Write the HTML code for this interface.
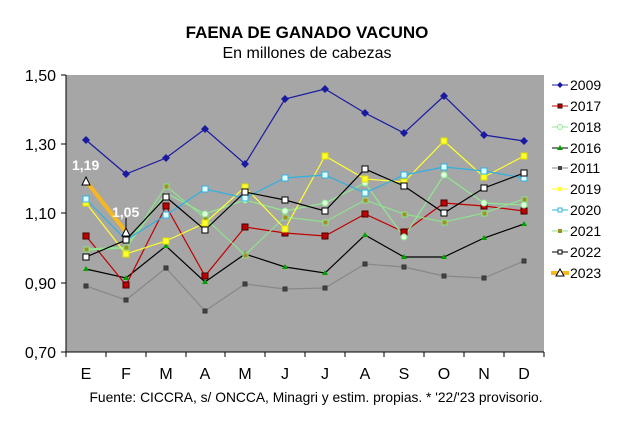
<!DOCTYPE html>
<html><head><meta charset="utf-8"><style>
body{margin:0;background:#fff;}
svg text{font-family:"Liberation Sans",Arial,sans-serif;}
</style></head><body>
<svg width="640" height="421" viewBox="0 0 640 421" xmlns="http://www.w3.org/2000/svg">
<rect width="640" height="421" fill="#fff"/>
<text x="307" y="38" font-size="17" font-weight="bold" text-anchor="middle">FAENA DE GANADO VACUNO</text>
<text x="307" y="58" font-size="16" text-anchor="middle">En millones de cabezas</text>
<rect x="66" y="75" width="478" height="277" fill="#a6a6a6"/>
<g stroke="#000" stroke-width="1">
<line x1="66" y1="75" x2="66" y2="352"/><line x1="66" y1="352" x2="544" y2="352"/>
<line x1="61" y1="75" x2="66" y2="75"/><line x1="61" y1="144" x2="66" y2="144"/><line x1="61" y1="213" x2="66" y2="213"/><line x1="61" y1="283" x2="66" y2="283"/><line x1="61" y1="352" x2="66" y2="352"/>
<line x1="66" y1="352" x2="66" y2="357"/><line x1="106" y1="352" x2="106" y2="357"/><line x1="146" y1="352" x2="146" y2="357"/><line x1="186" y1="352" x2="186" y2="357"/><line x1="225" y1="352" x2="225" y2="357"/><line x1="265" y1="352" x2="265" y2="357"/><line x1="305" y1="352" x2="305" y2="357"/><line x1="345" y1="352" x2="345" y2="357"/><line x1="384" y1="352" x2="384" y2="357"/><line x1="424" y1="352" x2="424" y2="357"/><line x1="464" y1="352" x2="464" y2="357"/><line x1="504" y1="352" x2="504" y2="357"/><line x1="544" y1="352" x2="544" y2="357"/>
</g>
<g font-size="16" text-anchor="end">
<text x="56" y="81">1,50</text><text x="56" y="150">1,30</text><text x="56" y="219">1,10</text><text x="56" y="289">0,90</text><text x="56" y="358">0,70</text>
</g>
<g font-size="16" text-anchor="middle">
<text x="86" y="379">E</text><text x="126" y="379">F</text><text x="166" y="379">M</text><text x="205" y="379">A</text><text x="245" y="379">M</text><text x="285" y="379">J</text><text x="325" y="379">J</text><text x="365" y="379">A</text><text x="404" y="379">S</text><text x="444" y="379">O</text><text x="484" y="379">N</text><text x="524" y="379">D</text>
</g>
<text x="316" y="402" font-size="13.8" text-anchor="middle">Fuente: CICCRA, s/ ONCCA, Minagri y estim. propias. * '22/'23 provisorio.</text>

<g fill="none" stroke-width="1.2">
<polyline stroke="#888" points="86,286 126,300 166,268 205,311 245,284 285,289 325,288 365,264 404,267 444,276 484,278 524,261"/>
<polyline stroke="#000" points="86,269 126,278 166,246 205,282 245,254 285,267 325,273 365,235 404,257 444,257 484,238 524,224"/>
<polyline stroke="#c00000" points="86,236 126,285 166,206 205,276 245,227 285,233 325,236 365,214 404,232 444,203 484,206 524,211"/>
<polyline stroke="#90e090" points="86,249 126,247 166,186 205,218 245,255 285,217 325,222 365,200 404,214 444,222 484,213 524,199"/>
<polyline stroke="#90e890" points="86,250 126,248 166,193 205,214 245,200 285,211 325,203 365,183 404,237 444,175 484,203 524,205"/>
<polyline stroke="#ffff30" points="86,203 126,254 166,241 205,223 245,187 285,229 325,156 365,179 404,182 444,141 484,177 524,156"/>
<polyline stroke="#30b0e0" points="86,199 126,240 166,215 205,189 245,198 285,178 325,175 365,193 404,175 444,167 484,171 524,178"/>
<polyline stroke="#000" points="86,257 126,240 166,197 205,230 245,192 285,200 325,211 365,169 404,186 444,213 484,188 524,173"/>
<polyline stroke="#1a1aa0" points="86,140 126,174 166,158 205,129 245,164 285,99 325,89 365,113 404,133 444,96 484,135 524,141"/>
<polyline stroke="#f5b820" stroke-width="4" points="86,181 126,232"/>
</g>
<g stroke-width="1">
<g fill="#444" stroke="#333"><rect x="84" y="284" width="4" height="4"/><rect x="124" y="298" width="4" height="4"/><rect x="164" y="266" width="4" height="4"/><rect x="203" y="309" width="4" height="4"/><rect x="243" y="282" width="4" height="4"/><rect x="283" y="287" width="4" height="4"/><rect x="323" y="286" width="4" height="4"/><rect x="363" y="262" width="4" height="4"/><rect x="402" y="265" width="4" height="4"/><rect x="442" y="274" width="4" height="4"/><rect x="482" y="276" width="4" height="4"/><rect x="522" y="259" width="4" height="4"/></g>
<g fill="#00a000"><polygon points="86,266 89,271 83,271"/><polygon points="126,275 129,280 123,280"/><polygon points="166,243 169,248 163,248"/><polygon points="205,279 208,284 202,284"/><polygon points="245,251 248,256 242,256"/><polygon points="285,264 288,269 282,269"/><polygon points="325,270 328,275 322,275"/><polygon points="365,232 368,237 362,237"/><polygon points="404,254 407,259 401,259"/><polygon points="444,254 447,259 441,259"/><polygon points="484,235 487,240 481,240"/><polygon points="524,221 527,226 521,226"/></g>
<g fill="#c00000" stroke="#400"><rect x="83" y="233" width="6" height="6"/><rect x="123" y="282" width="6" height="6"/><rect x="163" y="203" width="6" height="6"/><rect x="202" y="273" width="6" height="6"/><rect x="242" y="224" width="6" height="6"/><rect x="282" y="230" width="6" height="6"/><rect x="322" y="233" width="6" height="6"/><rect x="362" y="211" width="6" height="6"/><rect x="401" y="229" width="6" height="6"/><rect x="441" y="200" width="6" height="6"/><rect x="481" y="203" width="6" height="6"/><rect x="521" y="208" width="6" height="6"/></g>
<g fill="#a09020" stroke="#90e090"><rect x="84" y="247" width="5" height="5"/><rect x="124" y="245" width="5" height="5"/><rect x="164" y="184" width="5" height="5"/><rect x="203" y="216" width="5" height="5"/><rect x="243" y="253" width="5" height="5"/><rect x="283" y="215" width="5" height="5"/><rect x="323" y="220" width="5" height="5"/><rect x="363" y="198" width="5" height="5"/><rect x="402" y="212" width="5" height="5"/><rect x="442" y="220" width="5" height="5"/><rect x="482" y="211" width="5" height="5"/><rect x="522" y="197" width="5" height="5"/></g>
<g fill="#e0ffe0" stroke="#90e890"><circle cx="205" cy="214" r="3"/><circle cx="245" cy="200" r="3"/><circle cx="285" cy="211" r="3"/><circle cx="325" cy="203" r="3"/><circle cx="365" cy="183" r="3"/><circle cx="404" cy="237" r="3"/><circle cx="444" cy="175" r="3"/><circle cx="484" cy="203" r="3"/><circle cx="524" cy="205" r="3"/></g>
<g fill="#ffff30" stroke="#dd0"><rect x="83" y="200" width="6" height="6"/><rect x="123" y="251" width="6" height="6"/><rect x="163" y="238" width="6" height="6"/><rect x="202" y="220" width="6" height="6"/><rect x="242" y="184" width="6" height="6"/><rect x="282" y="226" width="6" height="6"/><rect x="322" y="153" width="6" height="6"/><rect x="362" y="176" width="6" height="6"/><rect x="401" y="179" width="6" height="6"/><rect x="441" y="138" width="6" height="6"/><rect x="481" y="174" width="6" height="6"/><rect x="521" y="153" width="6" height="6"/></g>
<g fill="#dff" stroke="#30b0e0"><rect x="83" y="196" width="6" height="6"/><rect x="123" y="237" width="6" height="6"/><rect x="163" y="212" width="6" height="6"/><rect x="202" y="186" width="6" height="6"/><rect x="242" y="195" width="6" height="6"/><rect x="282" y="175" width="6" height="6"/><rect x="322" y="172" width="6" height="6"/><rect x="362" y="190" width="6" height="6"/><rect x="401" y="172" width="6" height="6"/><rect x="441" y="164" width="6" height="6"/><rect x="481" y="168" width="6" height="6"/><rect x="521" y="175" width="6" height="6"/></g>
<g fill="#fff" stroke="#000"><rect x="83" y="254" width="6" height="6"/><rect x="123" y="237" width="6" height="6"/><rect x="163" y="194" width="6" height="6"/><rect x="202" y="227" width="6" height="6"/><rect x="242" y="189" width="6" height="6"/><rect x="282" y="197" width="6" height="6"/><rect x="322" y="208" width="6" height="6"/><rect x="362" y="166" width="6" height="6"/><rect x="401" y="183" width="6" height="6"/><rect x="441" y="210" width="6" height="6"/><rect x="481" y="185" width="6" height="6"/><rect x="521" y="170" width="6" height="6"/></g>
<g fill="#1a1aa0"><polygon points="86,136 90,140 86,144 82,140"/><polygon points="126,170 130,174 126,178 122,174"/><polygon points="166,154 170,158 166,162 162,158"/><polygon points="205,125 209,129 205,133 201,129"/><polygon points="245,160 249,164 245,168 241,164"/><polygon points="285,95 289,99 285,103 281,99"/><polygon points="325,85 329,89 325,93 321,89"/><polygon points="365,109 369,113 365,117 361,113"/><polygon points="404,129 408,133 404,137 400,133"/><polygon points="444,92 448,96 444,100 440,96"/><polygon points="484,131 488,135 484,139 480,135"/><polygon points="524,137 528,141 524,145 520,141"/></g>
<line x1="126" y1="218" x2="126" y2="228" stroke="#000"/>
<g fill="#fff" stroke="#000"><polygon points="86,177 90,185 82,185"/><polygon points="126,228 130,236 122,236"/></g>
</g>
<text x="72" y="170" font-size="14" font-weight="bold" fill="#fff">1,19</text>
<text x="112" y="217" font-size="14" font-weight="bold" fill="#fff">1,05</text>

<g font-size="14">
<g transform="translate(0,85)"><line x1="552" x2="568" stroke="#1a1aa0"/><polygon points="560,-3 563,0 560,3 557,0" fill="#1a1aa0"/><text x="570" y="5">2009</text></g>
<g transform="translate(0,106)"><line x1="552" x2="568" stroke="#c00000"/><rect x="558" y="-2" width="4" height="4" fill="#c00000" stroke="#400"/><text x="570" y="5">2017</text></g>
<g transform="translate(0,127)"><line x1="552" x2="568" stroke="#90e890"/><circle cx="560" cy="0" r="2.5" fill="#fff" stroke="#90e890"/><text x="570" y="5">2018</text></g>
<g transform="translate(0,148)"><line x1="552" x2="568" stroke="#000"/><polygon points="560,-3 563,2 557,2" fill="#00a000"/><text x="570" y="5">2016</text></g>
<g transform="translate(0,168)"><line x1="552" x2="568" stroke="#888"/><rect x="558" y="-2" width="4" height="4" fill="#444"/><text x="570" y="5">2011</text></g>
<g transform="translate(0,189)"><line x1="552" x2="568" stroke="#ffff30"/><rect x="558" y="-2" width="4" height="4" fill="#ffff30"/><text x="570" y="5">2019</text></g>
<g transform="translate(0,210)"><line x1="552" x2="568" stroke="#30b0e0"/><rect x="558" y="-2" width="4" height="4" fill="#fff" stroke="#30b0e0"/><text x="570" y="5">2020</text></g>
<g transform="translate(0,231)"><line x1="552" x2="568" stroke="#90e090"/><rect x="558" y="-2" width="4" height="4" fill="#a09020"/><text x="570" y="5">2021</text></g>
<g transform="translate(0,252)"><line x1="552" x2="568" stroke="#000"/><rect x="558" y="-2" width="4" height="4" fill="#fff" stroke="#000"/><text x="570" y="5">2022</text></g>
<g transform="translate(0,273)"><line x1="551" x2="569" stroke="#f5b820" stroke-width="4"/><polygon points="560,-4 564,3 556,3" fill="#fff" stroke="#000"/><text x="570" y="5">2023</text></g>
</g>
</svg>
</body></html>
